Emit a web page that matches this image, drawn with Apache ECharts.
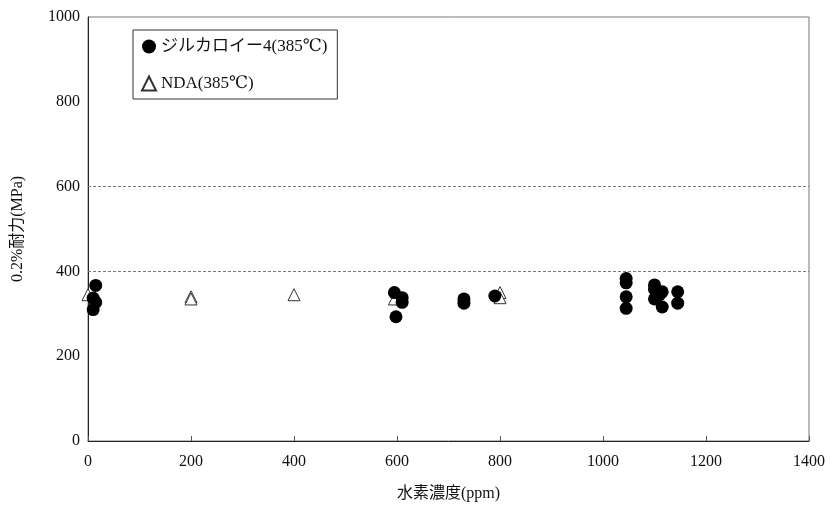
<!DOCTYPE html>
<html>
<head>
<meta charset="utf-8">
<script src="https://cdn.jsdelivr.net/npm/echarts@6/dist/echarts.min.js"></script>
<style>
html,body{margin:0;padding:0;background:#fff;}
#chart{width:831px;height:511px;}
</style>
</head>
<body>
<div id="chart"></div>
<script>
var seriesNames = ['ジルカロイー4(385℃)', 'NDA(385℃)'];
var zircX = [15, 10, 15, 10, 595, 610, 610, 598, 730, 730, 790, 1045, 1045, 1045, 1045, 1100, 1100, 1100, 1110, 1115, 1115, 1145, 1145];
var zircY = [367, 337, 327, 310, 350, 338, 327, 293, 335, 325, 342, 383, 373, 340, 313, 368, 358, 335, 345, 352, 316, 352, 325];
var ndaX = [0, 200, 200, 400, 595, 800, 800];
var ndaY = [345, 340, 335, 345, 335, 350, 338];
var refLines = [400, 600];
var xTicks = {min: 0, max: 1400, interval: 200};
var yTicks = {min: 0, max: 1000, interval: 200};
var xTitle = '水素濃度(ppm)';
var yTitle = '0.2%耐力(MPa)';

function pairs(xs, ys){ return xs.map(function(x,i){ return [x, ys[i]]; }); }
function plain(v){ return String(v); }

var FONT = "'Liberation Serif','DejaVu Serif','Noto Sans CJK JP',serif";
var chart = echarts.init(document.getElementById('chart'), null, {renderer:'canvas'});
chart.setOption({
  animation: false,
  backgroundColor: '#fff',
  textStyle: {fontFamily: FONT, color: '#111'},
  grid: {left: 88, right: 22, top: 17, bottom: 70, show: true, borderColor: '#777', borderWidth: 1},
  legend: {
    orient: 'vertical', left: 133, top: 30,
    backgroundColor: '#fff', borderColor: '#333', borderWidth: 1,
    padding: [8, 10, 7, 8], itemGap: 20, itemWidth: 14, itemHeight: 14,
    textStyle: {fontFamily: FONT, fontSize: 17, color: '#111', width: 163},
    data: [{name: seriesNames[0], icon: 'circle'}, {name: seriesNames[1], icon: 'triangle'}]
  },
  xAxis: {
    type: 'value', min: xTicks.min, max: xTicks.max, interval: xTicks.interval,
    name: xTitle, nameLocation: 'middle', nameGap: 45,
    nameTextStyle: {fontFamily: FONT, fontSize: 16, color: '#111'},
    axisLine: {show: true, onZero: false, lineStyle: {color: '#222', width: 1}},
    axisTick: {show: true, inside: true, length: 5, lineStyle: {color: '#555'}},
    axisLabel: {fontFamily: FONT, fontSize: 16, color: '#111', margin: 13, formatter: plain},
    splitLine: {show: false}
  },
  yAxis: {
    type: 'value', min: yTicks.min, max: yTicks.max, interval: yTicks.interval,
    name: yTitle, nameLocation: 'middle', nameGap: 62, nameRotate: 90,
    nameTextStyle: {fontFamily: FONT, fontSize: 16, color: '#111'},
    axisLine: {show: true, lineStyle: {color: '#222', width: 1}},
    axisTick: {show: false},
    axisLabel: {fontFamily: FONT, fontSize: 16, color: '#111', margin: 8, formatter: plain},
    splitLine: {show: false}
  },
  series: [
    {
      name: seriesNames[1], type: 'scatter', symbol: 'triangle', symbolSize: 12,
      itemStyle: {color: '#fff', borderColor: '#333', borderWidth: 1, opacity: 1},
      data: pairs(ndaX, ndaY), z: 2,
      markLine: {
        silent: true, symbol: 'none', label: {show: false},
        lineStyle: {color: '#777', type: [3, 2], width: 1},
        data: refLines.map(function(v){ return {yAxis: v}; })
      }
    },
    {
      name: seriesNames[0], type: 'scatter', symbol: 'circle', symbolSize: 13,
      itemStyle: {color: '#000', opacity: 1},
      data: pairs(zircX, zircY), z: 3
    }
  ]
});
</script>
</body>
</html>
